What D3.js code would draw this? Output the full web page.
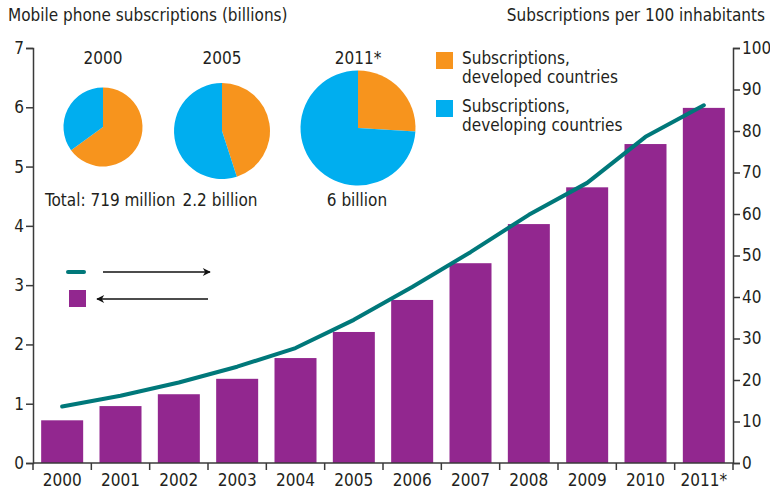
<!DOCTYPE html>
<html lang="en">
<head>
<meta charset="utf-8">
<title>Mobile phone subscriptions</title>
<script src="https://d3js.org/d3.v7.min.js"></script>
<style>
  body { margin: 0; background: #fff; }
  svg text { font-family: "Liberation Sans Narrow", "DejaVu Sans Condensed", sans-serif; fill: #231f20; }
</style>
</head>
<body>
<script>
// data
var years = ["2000", "2001", "2002", "2003", "2004", "2005", "2006", "2007", "2008", "2009", "2010", "2011*"];
var subsBillions = [0.72, 0.96, 1.16, 1.42, 1.77, 2.21, 2.75, 3.37, 4.03, 4.65, 5.38, 5.99];
var per100 = [13.6, 16.2, 19.4, 23.2, 27.7, 34.5, 42.4, 50.8, 59.8, 67.5, 78.6, 86.2];

var pieYears = ["2000", "2005", "2011*"];
var developedShare = [0.65, 0.45, 0.26];
var pieTotals = ["Total: 719 million", "2.2 billion", "6 billion"];

var leftTicks = [0, 1, 2, 3, 4, 5, 6, 7];
var rightTicks = [0, 10, 20, 30, 40, 50, 60, 70, 80, 90, 100];

var w = 770, h = 493;
var m = {left: 33, right: 37, top: 48, bottom: 30};

var svg = d3.select("body").append("svg")
    .attr("width", w)
    .attr("height", h);

var x = d3.scaleBand()
    .domain(years)
    .range([m.left, w - m.right])
    .paddingInner(0.28)
    .paddingOuter(0.14);

var yL = d3.scaleLinear().domain([0, 7]).range([h - m.bottom, m.top]);
var yR = d3.scaleLinear().domain([0, 100]).range([h - m.bottom, m.top]);

// bars
svg.selectAll("rect.bar")
    .data(subsBillions)
    .enter().append("rect")
    .attr("class", "bar")
    .attr("x", (d, i) => x(years[i]))
    .attr("y", d => yL(d))
    .attr("width", x.bandwidth())
    .attr("height", d => yL(0) - yL(d))
    .attr("fill", "#92278f");

// line
var line = d3.line()
    .x((d, i) => x(years[i]) + x.bandwidth() / 2)
    .y(d => yR(d));

svg.append("path")
    .datum(per100)
    .attr("d", line)
    .attr("fill", "none")
    .attr("stroke", "#00787a")
    .attr("stroke-width", 4)
    .attr("stroke-linecap", "round")
    .attr("stroke-linejoin", "round");

// axes
var axisColor = "#3a3a3a";
var fs = "17px";

var gL = svg.append("g")
    .attr("transform", "translate(" + m.left + ",0)")
    .call(d3.axisLeft(yL).tickValues(leftTicks).tickFormat(d3.format("d")).tickSize(7).tickPadding(2));
var gR = svg.append("g")
    .attr("transform", "translate(" + (w - m.right) + ",0)")
    .call(d3.axisRight(yR).tickValues(rightTicks).tickFormat(d3.format("d")).tickSize(7).tickPadding(2));

var xTickPos = d3.range(years.length + 1).map(i => m.left + i * (w - m.left - m.right) / years.length);
var gB = svg.append("g")
    .attr("transform", "translate(0," + (h - m.bottom) + ")");
gB.append("line")
    .attr("x1", m.left).attr("x2", w - m.right)
    .attr("stroke", axisColor).attr("stroke-width", 1.5);
gB.selectAll("line.tk")
    .data(xTickPos)
    .enter().append("line")
    .attr("class", "tk")
    .attr("x1", d => d).attr("x2", d => d)
    .attr("y1", 0).attr("y2", 7)
    .attr("stroke", axisColor).attr("stroke-width", 1.5);
gB.selectAll("text")
    .data(years)
    .enter().append("text")
    .attr("x", d => x(d) + x.bandwidth() / 2)
    .attr("y", 23)
    .attr("text-anchor", "middle")
    .style("font-size", fs)
    .text(d => d);

[gL, gR].forEach(function(g) {
  g.select(".domain").attr("stroke", axisColor).attr("stroke-width", 1.5);
  g.selectAll(".tick line").attr("stroke", axisColor).attr("stroke-width", 1.5);
  g.selectAll(".tick text").style("font-size", fs).attr("fill", "#231f20")
    .style("font-family", "'Liberation Sans Narrow', 'DejaVu Sans Condensed', sans-serif");
});

// titles
svg.append("text").attr("x", 8).attr("y", 21)
    .style("font-size", fs)
    .text("Mobile phone subscriptions (billions)");
svg.append("text").attr("x", 765).attr("y", 21)
    .attr("text-anchor", "end")
    .style("font-size", fs)
    .text("Subscriptions per 100 inhabitants");

// pies
var pieCx = [103, 222, 358];
var pieCy = [127, 131, 128];
var pieR = [39.5, 48, 57.5];
var pie = d3.pie().sort(null);
var colors = ["#f7941d", "#00aeef"];

pieYears.forEach(function(yr, k) {
  var g = svg.append("g").attr("transform", "translate(" + pieCx[k] + "," + pieCy[k] + ")");
  var arc = d3.arc().innerRadius(0).outerRadius(pieR[k]);
  g.selectAll("path")
    .data(pie([developedShare[k], 1 - developedShare[k]]))
    .enter().append("path")
    .attr("d", arc)
    .attr("fill", (d, i) => colors[i]);
  svg.append("text")
    .attr("x", pieCx[k]).attr("y", 64)
    .attr("text-anchor", "middle")
    .style("font-size", fs)
    .text(yr);
});

svg.append("text").attr("x", 45).attr("y", 206).style("font-size", fs).text(pieTotals[0]);
svg.append("text").attr("x", 220).attr("y", 206).attr("text-anchor", "middle").style("font-size", fs).text(pieTotals[1]);
svg.append("text").attr("x", 357).attr("y", 206).attr("text-anchor", "middle").style("font-size", fs).text(pieTotals[2]);

// colour legend
var legend = [
  {c: colors[0], l1: "Subscriptions,", l2: "developed countries", y: 52},
  {c: colors[1], l1: "Subscriptions,", l2: "developing countries", y: 100}
];
legend.forEach(function(d) {
  svg.append("rect").attr("x", 436).attr("y", d.y).attr("width", 17).attr("height", 17).attr("fill", d.c);
  svg.append("text").attr("x", 462).attr("y", d.y + 12).style("font-size", fs).text(d.l1);
  svg.append("text").attr("x", 462).attr("y", d.y + 31).style("font-size", fs).text(d.l2);
});

// axis legend with arrows
var defs = svg.append("defs");
defs.append("marker")
    .attr("id", "ah")
    .attr("viewBox", "0 0 10 10")
    .attr("refX", 9).attr("refY", 5)
    .attr("markerWidth", 12).attr("markerHeight", 8)
    .attr("markerUnits", "userSpaceOnUse")
    .attr("orient", "auto")
    .append("path").attr("d", "M0,0 L10,5 L0,10 L3,5 Z").attr("fill", "#111");

svg.append("line").attr("x1", 68).attr("x2", 84).attr("y1", 272).attr("y2", 272)
    .attr("stroke", "#00787a").attr("stroke-width", 4).attr("stroke-linecap", "round");
svg.append("line").attr("x1", 103).attr("x2", 210).attr("y1", 272).attr("y2", 272)
    .attr("stroke", "#111").attr("stroke-width", 1.3).attr("marker-end", "url(#ah)");
svg.append("rect").attr("x", 69).attr("y", 290).attr("width", 17).attr("height", 17).attr("fill", "#92278f");
svg.append("line").attr("x1", 208).attr("x2", 97).attr("y1", 299).attr("y2", 299)
    .attr("stroke", "#111").attr("stroke-width", 1.3).attr("marker-end", "url(#ah)");
</script>
</body>
</html>
